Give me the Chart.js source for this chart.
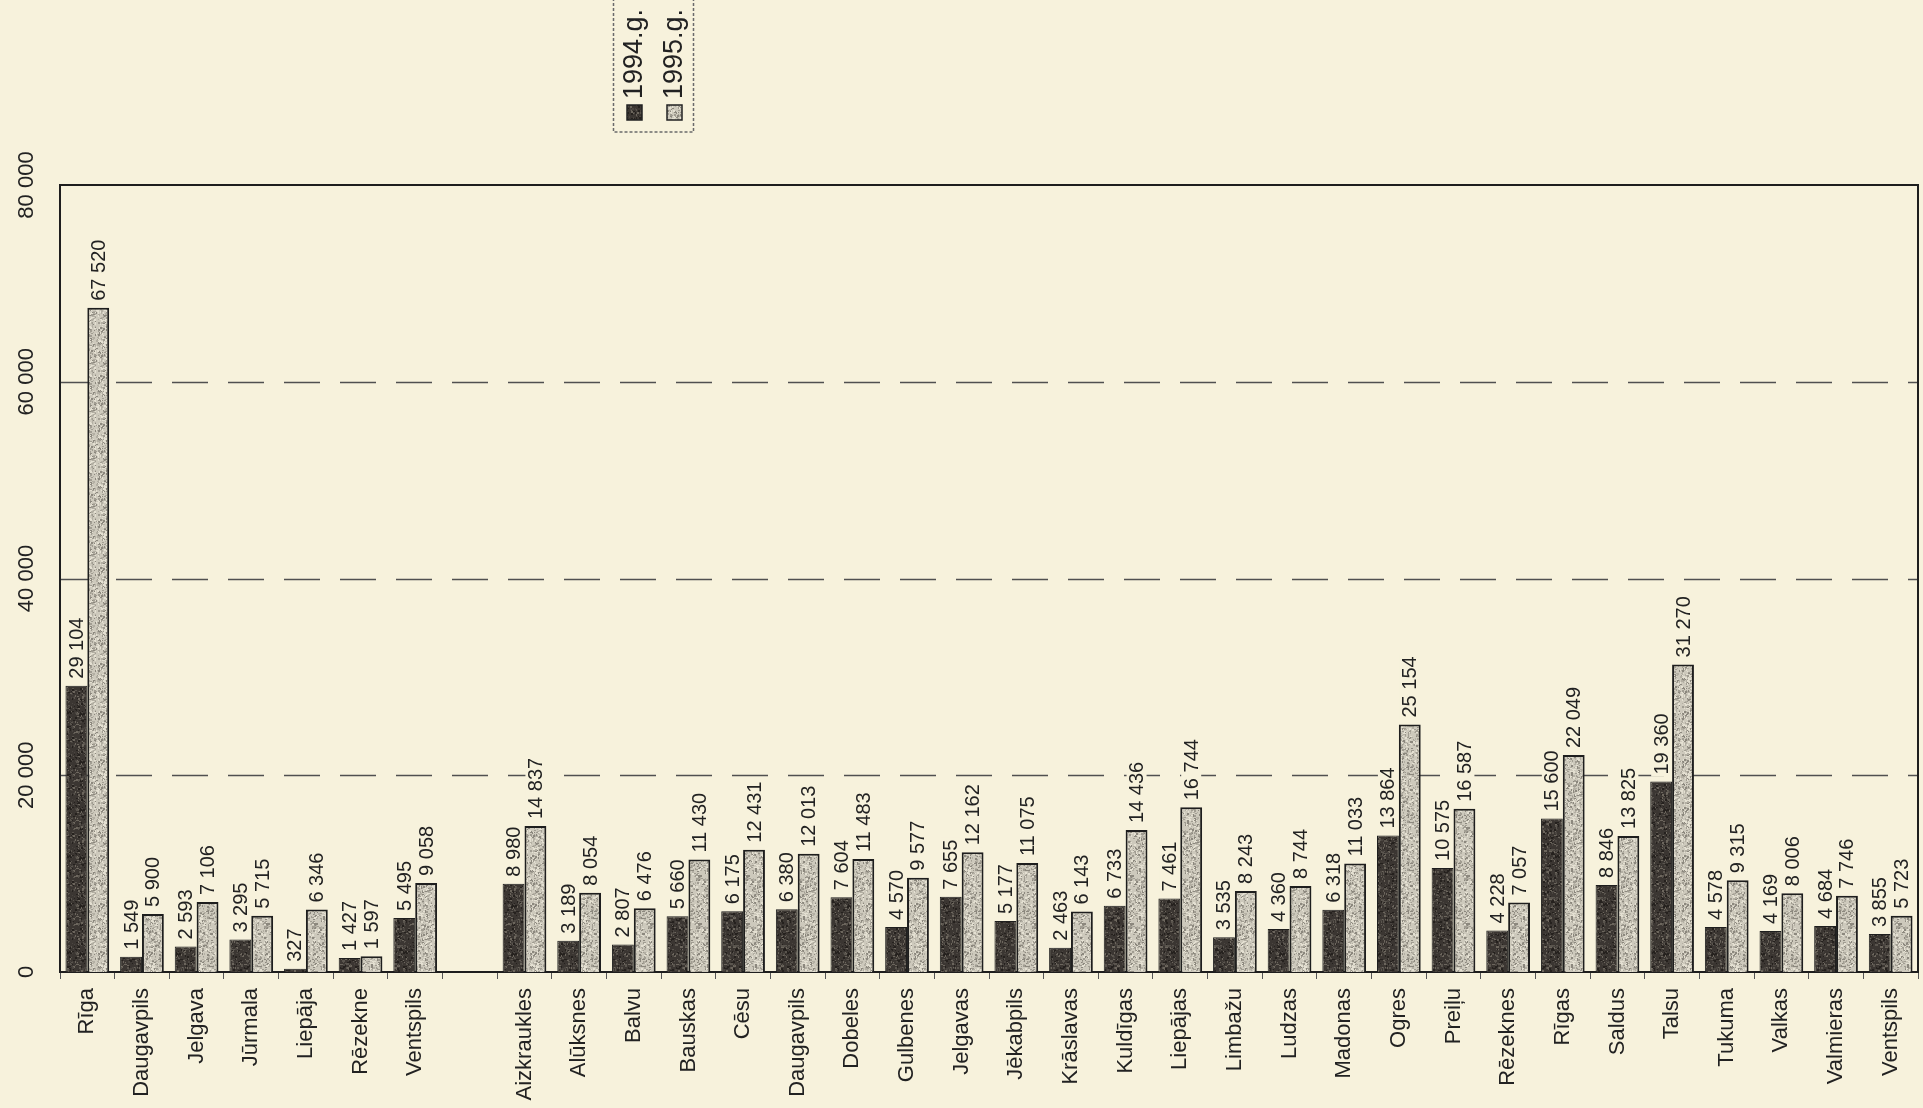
<!DOCTYPE html>
<html><head><meta charset="utf-8">
<script src="https://cdn.jsdelivr.net/npm/chart.js@4.4.1/dist/chart.umd.min.js"></script>
<style>
html,body{margin:0;padding:0;background:#f7f2dc;}
#wrap{width:1923px;height:1108px;position:relative;}
</style>
</head><body>
<div id="wrap"><canvas id="c"></canvas></div>
<script>
const categories = ['Rīga','Daugavpils','Jelgava','Jūrmala','Liepāja','Rēzekne','Ventspils','',
  'Aizkraukles','Alūksnes','Balvu','Bauskas','Cēsu','Daugavpils','Dobeles','Gulbenes','Jelgavas',
  'Jēkabpils','Krāslavas','Kuldīgas','Liepājas','Limbažu','Ludzas','Madonas','Ogres','Preiļu',
  'Rēzeknes','Rīgas','Saldus','Talsu','Tukuma','Valkas','Valmieras','Ventspils'];
const values1994 = [29104,1549,2593,3295,327,1427,5495,null,
  8980,3189,2807,5660,6175,6380,7604,4570,7655,5177,2463,6733,7461,3535,4360,6318,13864,10575,
  4228,15600,8846,19360,4578,4169,4684,3855];
const values1995 = [67520,5900,7106,5715,6346,1597,9058,null,
  14837,8054,6476,11430,12431,12013,11483,9577,12162,11075,6143,14436,16744,8243,8744,11033,25154,16587,
  7057,22049,13825,31270,9315,8006,7746,5723];
const seriesLabels = ['1994.g.','1995.g.'];
const yTickValues = [0,20000,40000,60000,80000];
const yTickLabels = ['0','20 000','40 000','60 000','80 000'];

const FONT = "'Liberation Sans', Arial, sans-serif";
const BG = '#f7f2dc';
const INK = '#222222';
const fmt = n => String(n).replace(/\B(?=(\d{3})+(?!\d))/g, ' ');

// stippled print texture (decoration only)
function makePattern(base, speck, density, seed){
  const cv = document.createElement('canvas'); cv.width = 48; cv.height = 48;
  const g = cv.getContext('2d');
  g.fillStyle = base; g.fillRect(0,0,48,48);
  let s = seed;
  const next = () => { s = (s * 1103515245 + 12345) & 0x7fffffff; return s / 0x7fffffff; };
  for (let i = 0; i < density; i++){
    g.fillStyle = speck[Math.floor(next() * speck.length)];
    g.fillRect(Math.floor(next()*48), Math.floor(next()*48), 1 + Math.floor(next()*2), 1 + Math.floor(next()*2));
  }
  return g.createPattern(cv, 'repeat');
}
const darkFill = makePattern('#3b3632', ['#5a554e','#6c665d','#25211e','#4a4540'], 520, 7);
const lightFill = makePattern('#cdc9bc', ['#a19d92','#8c887e','#e4e0d2','#b3afa3'], 700, 11);

const bgPlugin = {
  id:'bg',
  beforeDraw(chart){
    const c = chart.ctx; c.save(); c.fillStyle = BG; c.fillRect(0,0,chart.width,chart.height); c.restore();
  }
};

const gridPlugin = {
  id:'gridFrame',
  beforeDatasetsDraw(chart){
    const c = chart.ctx, a = chart.chartArea, y = chart.scales.y;
    c.save();
    c.strokeStyle = '#505050'; c.lineWidth = 1.5; c.setLineDash([36,20]);
    yTickValues.forEach(v => {
      if (v === y.min || v === y.max) return;
      const py = Math.round(y.getPixelForValue(v)) + 0.5;
      c.beginPath(); c.moveTo(a.left, py); c.lineTo(a.right, py); c.stroke();
    });
    c.setLineDash([]);
    c.strokeStyle = '#1e1e1e'; c.lineWidth = 2;
    c.strokeRect(a.left, a.top, a.right - a.left, a.bottom - a.top);
    c.restore();
  }
};

const valuePlugin = {
  id:'values',
  afterDatasetsDraw(chart){
    const c = chart.ctx;
    c.save();
    c.font = '20px ' + FONT;
    c.textAlign = 'left'; c.textBaseline = 'middle';
    chart.data.datasets.forEach((ds, i) => {
      const meta = chart.getDatasetMeta(i);
      meta.data.forEach((bar, j) => {
        const v = ds.data[j];
        if (v == null) return;
        const t = fmt(v);
        const w = c.measureText(t).width;
        c.save();
        c.translate(bar.x, bar.y - 7);
        c.rotate(-Math.PI/2);
        c.fillStyle = BG;
        c.fillRect(-2, -10, w + 4, 20);
        c.fillStyle = INK;
        c.fillText(t, 0, 1);
        c.restore();
      });
    });
    c.restore();
  }
};

const axisLegendPlugin = {
  id:'axisLegend',
  afterDraw(chart){
    const c = chart.ctx, y = chart.scales.y;
    c.save();
    c.font = '22px ' + FONT; c.fillStyle = INK;
    c.textAlign = 'center'; c.textBaseline = 'middle';
    y.ticks.forEach(tk => {
      const idx = yTickValues.indexOf(tk.value);
      if (idx < 0) return;
      c.save();
      c.translate(27, y.getPixelForValue(tk.value));
      c.rotate(-Math.PI/2);
      c.fillText(yTickLabels[idx], 0, 0);
      c.restore();
    });
    // legend box
    c.strokeStyle = '#6a6a6a'; c.lineWidth = 1.5; c.setLineDash([3,2]);
    c.strokeRect(613.5, -2, 80, 134);
    c.setLineDash([]);
    const centers = [634, 674];
    chart.data.datasets.forEach((ds, i) => {
      const cx = centers[i];
      c.fillStyle = ds.backgroundColor; c.strokeStyle = '#222'; c.lineWidth = 1.5;
      c.fillRect(cx - 7, 105, 15, 15); c.strokeRect(cx - 7, 105, 15, 15);
      c.save();
      c.translate(cx, 99); c.rotate(-Math.PI/2);
      c.font = '27px ' + FONT; c.fillStyle = INK;
      c.textAlign = 'left'; c.textBaseline = 'middle';
      c.fillText(ds.label, 0, 1);
      c.restore();
    });
    c.restore();
  }
};

new Chart(document.getElementById('c'), {
  type:'bar',
  data:{
    labels: categories,
    datasets:[
      {label: seriesLabels[0], data: values1994, backgroundColor: darkFill, borderColor:'#1e1e1e', borderWidth:1,
       categoryPercentage:0.8, barPercentage:1.0},
      {label: seriesLabels[1], data: values1995, backgroundColor: lightFill, borderColor:'#1e1e1e', borderWidth:2,
       categoryPercentage:0.8, barPercentage:1.0}
    ]
  },
  options:{
    responsive:true, maintainAspectRatio:false, animation:false, devicePixelRatio:1,
    layout:{padding:{left:60, right:5, top:185, bottom:0}},
    plugins:{legend:{display:false}, tooltip:{enabled:false}},
    scales:{
      x:{
        grid:{display:true, drawOnChartArea:false, drawTicks:true, tickLength:7, color:'#555', offset:true},
        border:{display:true, color:'#1e1e1e', width:2},
        ticks:{minRotation:90, maxRotation:90, autoSkip:false, padding:9, color:INK, font:{family:FONT, size:22}},
        afterFit(s){ s.height = 136; s.paddingLeft = 0; s.paddingRight = 0; }
      },
      y:{
        min:0, max:80000,
        ticks:{display:false, stepSize:20000},
        grid:{display:false}, border:{display:false},
        afterFit(s){ s.width = 0; }
      }
    }
  },
  plugins:[bgPlugin, gridPlugin, valuePlugin, axisLegendPlugin]
});
</script>
</body></html>
